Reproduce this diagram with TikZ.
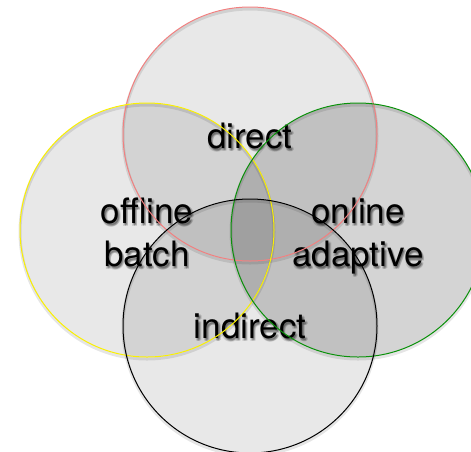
\documentclass[tikz,border=0pt]{standalone}
\usepackage{fontspec}
\setmainfont{TeX Gyre Heros}
\newcommand\shlabel[3]{%
  \foreach \dx/\dy in {1/2.5,2/3.5,0.5/3.5,1.5/1.5,2.5/2.5}
    \node[lbl, text opacity=0.13, xshift=\dx pt, yshift=-\dy pt] at (#2) {#3};
  \node[lbl] (#1) at (#2) {#3};}
\begin{document}
\begin{tikzpicture}[x=1pt,y=-1pt,
  venn/.style={fill=black, fill opacity=0.09},
  venndark/.style={fill=black, fill opacity=0.17},
  ring/.style={line width=1pt},
  cshadow/.style={draw=black, draw opacity=0.10, line width=3pt},
  lbl/.style={font=\fontsize{35}{42}\selectfont, anchor=base, inner sep=0pt, text=black}]
\useasboundingbox (0,0) rectangle (471,451);
\clip (0,0) rectangle (471,451);
\coordinate (cr) at (250,134);
\coordinate (cy) at (147,230);
\coordinate (cg) at (358,230);
\coordinate (ck) at (250,326);
% fills
\foreach \c in {cr,cy,ck} \fill[venn] (\c) circle (127);
\fill[venndark] (cg) circle (127);
% soft shadows of rings
\foreach \c in {cr,cy,cg,ck} \draw[cshadow] ([yshift=-2pt]\c) circle (127);
% labels
\coordinate (pd) at (250,148);
\coordinate (po1) at (147,223);
\coordinate (po2) at (147,266);
\coordinate (pn1) at (358,223);
\coordinate (pn2) at (358,266);
\coordinate (pi) at (250,338);
\shlabel{direct}{pd}{direct}
\shlabel{offline}{po1}{offline}
\shlabel{batch}{po2}{batch}
\shlabel{online}{pn1}{online}
\shlabel{adaptive}{pn2}{adaptive}
\shlabel{indirect}{pi}{indirect}
% outlines
\draw[ring, draw={rgb,255:red,242;green,128;blue,128}] (cr) circle (127);
\draw[ring, draw={rgb,255:red,250;green,240;blue,0}] (cy) circle (127);
\draw[ring, draw={rgb,255:red,10;green,145;blue,10}] (cg) circle (127);
\draw[ring, draw=black] (ck) circle (127);
\end{tikzpicture}
\end{document}
